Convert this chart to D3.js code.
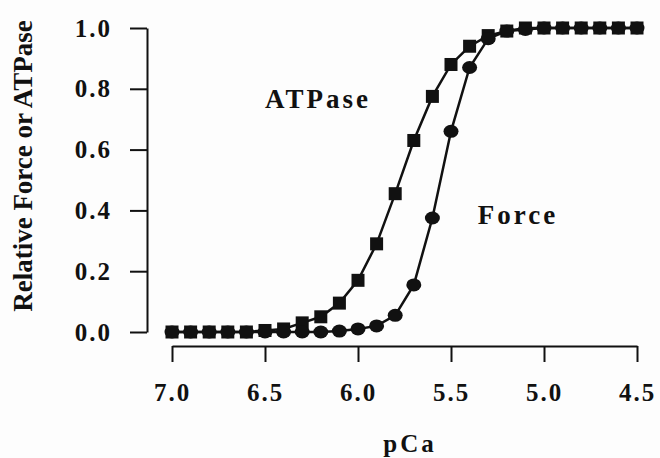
<!DOCTYPE html>
<html>
<head>
<meta charset="utf-8">
<script src="https://cdn.jsdelivr.net/npm/d3@7"></script>
<style>
  body { margin: 0; background: #fdfdfd; }
  text { font-family: "Liberation Serif", "Times New Roman", serif; font-weight: bold; fill: #111; }
</style>
</head>
<body>
<div id="plot"></div>
<script>
// pCa steps (x) and the two relative curves
var pCa = [7.0, 6.9, 6.8, 6.7, 6.6, 6.5, 6.4, 6.3, 6.2, 6.1, 6.0, 5.9, 5.8, 5.7, 5.6,
           5.5, 5.4, 5.3, 5.2, 5.1, 5.0, 4.9, 4.8, 4.7, 4.6, 4.5];
var atpase = [0.0, 0.0, 0.0, 0.0, 0.0, 0.005, 0.01, 0.03, 0.05, 0.095, 0.17, 0.29, 0.455, 0.63, 0.775,
              0.88, 0.94, 0.975, 0.99, 1.0, 1.0, 1.0, 1.0, 1.0, 1.0, 1.0];
var force = [0.0, 0.0, 0.0, 0.0, 0.0, 0.0, 0.0, 0.0, 0.0, 0.003, 0.01, 0.02, 0.055, 0.155, 0.375,
             0.66, 0.87, 0.965, 0.99, 0.995, 1.0, 1.0, 1.0, 1.0, 1.0, 1.0];
var xTicks = [7.0, 6.5, 6.0, 5.5, 5.0, 4.5];
var yTicks = [0.0, 0.2, 0.4, 0.6, 0.8, 1.0];

var W = 660, H = 458;

var svg = d3.select("#plot").append("svg")
    .attr("width", W)
    .attr("height", H);

var x = d3.scaleLinear().domain([7.0, 4.5]).range([172, 637]);
var y = d3.scaleLinear().domain([0, 1]).range([332, 28]);

// y axis
var yAxis = svg.append("g")
    .attr("transform", "translate(147,0)")
    .call(d3.axisLeft(y).tickValues(yTicks).tickFormat(d3.format(".1f"))
        .tickSize(17).tickSizeOuter(0).tickPadding(18));
yAxis.select(".domain").attr("stroke", "#111").attr("stroke-width", 2);
yAxis.selectAll(".tick line").attr("stroke", "#111").attr("stroke-width", 2);
yAxis.selectAll(".tick text")
    .style("font-size", "25px")
    .style("letter-spacing", "2px")
    .attr("fill", "#111");

// x axis
var xAxis = svg.append("g")
    .attr("transform", "translate(0,346)")
    .call(d3.axisBottom(x).tickValues(xTicks).tickFormat(d3.format(".1f"))
        .tickSize(16).tickSizeOuter(0).tickPadding(21));
xAxis.select(".domain").attr("stroke", "#111").attr("stroke-width", 2);
xAxis.selectAll(".tick line").attr("stroke", "#111").attr("stroke-width", 2);
xAxis.selectAll(".tick text")
    .style("font-size", "25px")
    .style("letter-spacing", "2px")
    .attr("fill", "#111");

// axis titles
svg.append("text")
    .attr("x", 410)
    .attr("y", 452)
    .attr("text-anchor", "middle")
    .style("font-size", "25px")
    .style("letter-spacing", "3px")
    .text("pCa");

svg.append("text")
    .attr("transform", "translate(32,166) rotate(-90)")
    .attr("text-anchor", "middle")
    .style("font-size", "27px")
    .text("Relative Force or ATPase");

// series
var line = d3.line()
    .x(function(d) { return x(d[0]); })
    .y(function(d) { return y(d[1]); });

var atpData = pCa.map(function(p, i) { return [p, atpase[i]]; });
var forceData = pCa.map(function(p, i) { return [p, force[i]]; });

svg.append("path").datum(atpData)
    .attr("d", line).attr("fill", "none").attr("stroke", "#111").attr("stroke-width", 2.5);
svg.append("path").datum(forceData)
    .attr("d", line).attr("fill", "none").attr("stroke", "#111").attr("stroke-width", 2.5);

svg.selectAll("rect.atp").data(atpData).join("rect")
    .attr("class", "atp")
    .attr("x", function(d) { return x(d[0]) - 6.5; })
    .attr("y", function(d) { return y(d[1]) - 6.5; })
    .attr("width", 13)
    .attr("height", 13)
    .attr("fill", "#111");

svg.selectAll("ellipse.force").data(forceData).join("ellipse")
    .attr("class", "force")
    .attr("cx", function(d) { return x(d[0]); })
    .attr("cy", function(d) { return y(d[1]); })
    .attr("rx", 7.5)
    .attr("ry", 6.5)
    .attr("fill", "#111");

// series labels
svg.append("text")
    .attr("x", 318)
    .attr("y", 108)
    .attr("text-anchor", "middle")
    .style("font-size", "27px")
    .style("letter-spacing", "3px")
    .text("ATPase");

svg.append("text")
    .attr("x", 518)
    .attr("y", 224)
    .attr("text-anchor", "middle")
    .style("font-size", "27px")
    .style("letter-spacing", "3px")
    .text("Force");
</script>
</body>
</html>
